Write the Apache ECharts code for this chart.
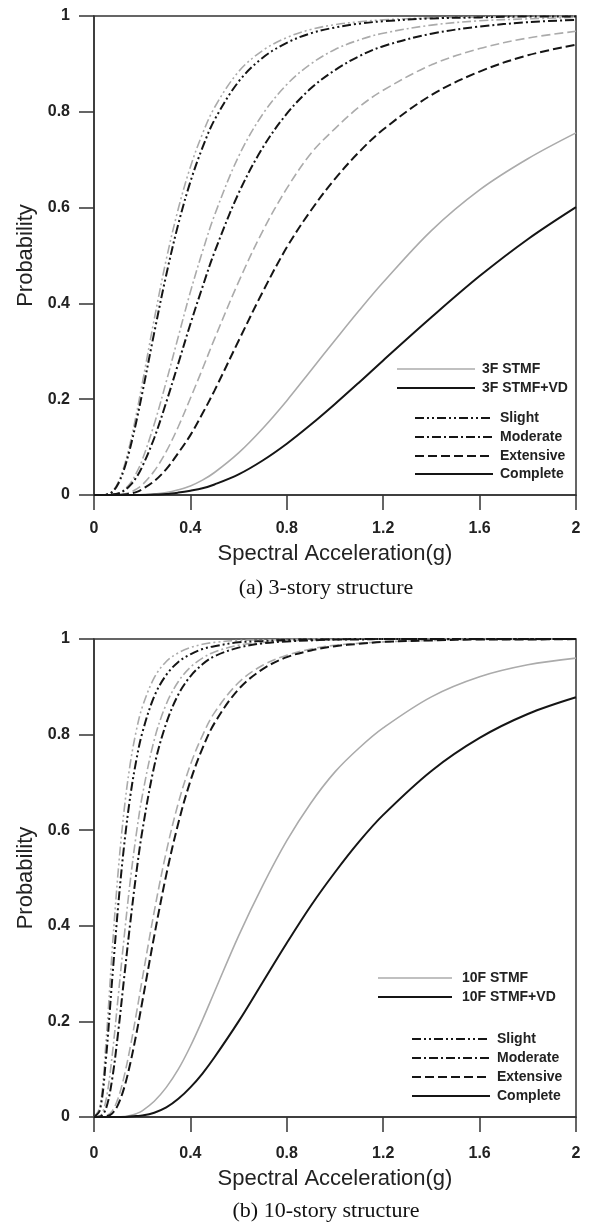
<!DOCTYPE html>
<html>
<head>
<meta charset="utf-8">
<script src="https://cdn.jsdelivr.net/npm/echarts@6/dist/echarts.min.js"></script>
<style>
html,body{margin:0;padding:0;background:#fff;}
#chart{width:590px;height:1228px;}
</style>
</head>
<body>
<div id="chart"></div>
<script>
// Spectral acceleration sample points (g)
const X = [0,0.025,0.05,0.075,0.1,0.125,0.15,0.175,0.2,0.25,0.3,0.35,0.4,0.45,0.5,0.6,0.7,0.8,0.9,1.0,1.1,1.2,1.4,1.6,1.8,2.0];
const xTicks = [0,0.4,0.8,1.2,1.6,2];
const yTicks = [0,0.2,0.4,0.6,0.8,1];

// (a) 3-story structure
const a_slight_stmf = [0,0,0.001,0.007,0.026,0.060,0.108,0.167,0.232,0.367,0.492,0.598,0.685,0.754,0.809,0.884,0.928,0.955,0.972,0.982,0.988,0.992,0.996,0.998,0.999,1.0];
const a_slight_vd   = [0,0,0.001,0.006,0.023,0.054,0.098,0.152,0.212,0.339,0.460,0.566,0.654,0.725,0.783,0.863,0.913,0.944,0.964,0.976,0.984,0.989,0.995,0.997,0.999,0.999];
const a_mod_stmf    = [0,0,0,0.001,0.003,0.011,0.024,0.045,0.073,0.148,0.237,0.331,0.424,0.508,0.584,0.707,0.795,0.857,0.900,0.930,0.950,0.964,0.981,0.990,0.994,0.997];
const a_mod_vd      = [0,0,0,0.001,0.003,0.009,0.020,0.036,0.059,0.119,0.194,0.275,0.357,0.434,0.507,0.630,0.725,0.796,0.849,0.887,0.916,0.937,0.963,0.978,0.987,0.992];
const a_ext_stmf    = [0,0,0,0,0.001,0.002,0.006,0.012,0.021,0.050,0.091,0.143,0.202,0.263,0.326,0.445,0.551,0.640,0.713,0.765,0.810,0.845,0.898,0.932,0.954,0.968];
const a_ext_vd      = [0,0,0,0,0,0.001,0.003,0.006,0.012,0.029,0.054,0.088,0.125,0.170,0.218,0.322,0.424,0.517,0.594,0.660,0.716,0.763,0.835,0.884,0.918,0.940];
const a_comp_stmf   = [0,0,0,0,0,0,0,0,0.001,0.002,0.005,0.011,0.019,0.031,0.047,0.088,0.139,0.197,0.260,0.323,0.385,0.444,0.552,0.637,0.702,0.756];
const a_comp_vd     = [0,0,0,0,0,0,0,0,0,0.001,0.002,0.005,0.009,0.014,0.022,0.043,0.072,0.107,0.147,0.190,0.235,0.281,0.371,0.457,0.534,0.601];

// (b) 10-story structure
const b_slight_stmf = [0,0.021,0.158,0.345,0.512,0.642,0.738,0.807,0.857,0.919,0.953,0.971,0.982,0.989,0.993,0.997,0.998,0.999,1,1,1,1,1,1,1,1];
const b_slight_vd   = [0,0.015,0.124,0.285,0.440,0.568,0.669,0.745,0.803,0.880,0.925,0.952,0.968,0.979,0.985,0.993,0.996,0.998,0.999,0.999,1,1,1,1,1,1];
const b_mod_stmf    = [0,0.002,0.036,0.127,0.250,0.376,0.492,0.590,0.671,0.789,0.864,0.911,0.941,0.960,0.973,0.987,0.993,0.996,0.998,0.999,1,1,1,1,1,1];
const b_mod_vd      = [0,0.001,0.018,0.078,0.176,0.291,0.404,0.508,0.597,0.734,0.824,0.884,0.922,0.947,0.964,0.982,0.991,0.995,0.997,0.999,0.999,1,1,1,1,1];
const b_ext_stmf    = [0,0,0.002,0.012,0.039,0.085,0.145,0.214,0.288,0.430,0.555,0.657,0.737,0.798,0.846,0.909,0.945,0.966,0.979,0.987,0.991,0.994,0.997,0.999,0.999,1];
const b_ext_vd      = [0,0,0.001,0.007,0.026,0.061,0.111,0.172,0.240,0.379,0.507,0.615,0.703,0.771,0.824,0.895,0.937,0.962,0.976,0.985,0.990,0.994,0.997,0.999,0.999,1];
const b_comp_stmf   = [0,0,0,0,0,0.001,0.003,0.007,0.013,0.033,0.062,0.100,0.148,0.203,0.262,0.379,0.484,0.578,0.657,0.722,0.772,0.814,0.879,0.921,0.946,0.960];
const b_comp_vd     = [0,0,0,0,0,0,0.001,0.002,0.003,0.009,0.020,0.038,0.062,0.091,0.125,0.200,0.282,0.364,0.442,0.512,0.576,0.632,0.724,0.793,0.843,0.878];

const states = ['Slight','Moderate','Extensive','Complete'];
const legendA = ['3F STMF','3F STMF+VD'];
const legendB = ['10F STMF','10F STMF+VD'];
const captions = ['(a) 3-story structure','(b) 10-story structure'];

const GRAY = '#ababab', BLACK = '#151515';
const DASH = {Slight:[9,3,2,3,2,3], Moderate:[9,3,2,3], Extensive:[9,4], Complete:'solid'};
const SANS = '"Liberation Sans", Arial, sans-serif';
const SERIF = '"Liberation Serif", "Times New Roman", serif';

const panels = [
  {stmf:[a_slight_stmf,a_mod_stmf,a_ext_stmf,a_comp_stmf], vd:[a_slight_vd,a_mod_vd,a_ext_vd,a_comp_vd]},
  {stmf:[b_slight_stmf,b_mod_stmf,b_ext_stmf,b_comp_stmf], vd:[b_slight_vd,b_mod_vd,b_ext_vd,b_comp_vd]}
];

const series = [];
panels.forEach((p, pi) => {
  states.forEach((s, si) => {
    series.push({type:'line', xAxisIndex:pi, yAxisIndex:pi, showSymbol:false, smooth:0.35,
      data:X.map((x,i)=>[x,p.stmf[si][i]]), lineStyle:{color:GRAY,width:1.6,type:DASH[s]}, z:2, silent:true});
  });
  states.forEach((s, si) => {
    series.push({type:'line', xAxisIndex:pi, yAxisIndex:pi, showSymbol:false, smooth:0.35,
      data:X.map((x,i)=>[x,p.vd[si][i]]), lineStyle:{color:BLACK,width:2,type:DASH[s]}, z:3, silent:true});
  });
});

const grids = [
  {left:94, top:16, width:482, height:479},
  {left:94, top:639, width:482, height:478}
];

function xAx(i){
  return {type:'value', gridIndex:i, min:xTicks[0], max:xTicks[xTicks.length-1], interval:0.4,
    axisLine:{show:true,onZero:false,lineStyle:{color:'#333',width:1.5}},
    axisTick:{show:true,inside:false,length:15,lineStyle:{color:'#333',width:1.5}},
    splitLine:{show:false},
    axisLabel:{margin:i?29:26,color:'#222',fontFamily:SANS,fontWeight:'bold',fontSize:16,
      formatter:v=>{const t=xTicks.find(u=>Math.abs(u-v)<1e-6);return t===undefined?'':String(t);}},
    name:'Spectral Acceleration(g)', nameLocation:'middle', nameGap:i?51:48,
    nameTextStyle:{fontFamily:SANS,fontSize:22,color:'#222'}};
}
function yAx(i){
  return {type:'value', gridIndex:i, min:yTicks[0], max:yTicks[yTicks.length-1], interval:0.2,
    axisLine:{show:true,lineStyle:{color:'#333',width:1.5}},
    axisTick:{show:true,inside:false,length:15,lineStyle:{color:'#333',width:1.5}},
    splitLine:{show:false},
    axisLabel:{margin:24,color:'#222',fontFamily:SANS,fontWeight:'bold',fontSize:16,
      formatter:v=>{const t=yTicks.find(u=>Math.abs(u-v)<1e-6);return t===undefined?'':String(t);}},
    name:'Probability', nameLocation:'middle', nameGap:50,
    nameTextStyle:{fontFamily:SANS,fontSize:22,color:'#222'}};
}

// legend drawn as graphic elements
function legendGraphics(lx0, lx1, ltx, ys, sx0, sx1, stx, sy, labels){
  const g = [];
  const cols = [GRAY, BLACK];
  labels.forEach((lab, k) => {
    g.push({type:'line', shape:{x1:lx0,y1:ys[k],x2:lx1,y2:ys[k]}, style:{stroke:cols[k],lineWidth:k?2:1.6}});
    g.push({type:'text', x:ltx, y:ys[k], style:{text:lab,fill:'#222',font:'bold 14px '+SANS,textVerticalAlign:'middle'}});
  });
  states.forEach((s, k) => {
    const d = DASH[s];
    g.push({type:'line', shape:{x1:sx0,y1:sy[k],x2:sx1,y2:sy[k]}, style:{stroke:BLACK,lineWidth:2,lineDash:Array.isArray(d)?d:null}});
    g.push({type:'text', x:stx, y:sy[k], style:{text:s,fill:'#222',font:'bold 14px '+SANS,textVerticalAlign:'middle'}});
  });
  return g;
}

const graphics = []
  .concat(legendGraphics(397,475,482,[369,388],415,493,500,[418,437,456,474],legendA))
  .concat(legendGraphics(378,452,462,[978,997],412,490,497,[1039,1058,1077,1096],legendB))
  .concat([
    {type:'text', x:326, y:588, style:{text:captions[0],fill:'#111',font:'22px '+SERIF,textAlign:'center',textVerticalAlign:'middle'}},
    {type:'text', x:326, y:1211, style:{text:captions[1],fill:'#111',font:'22px '+SERIF,textAlign:'center',textVerticalAlign:'middle'}}
  ]);

const chart = echarts.init(document.getElementById('chart'), null, {renderer:'canvas'});
chart.setOption({
  animation:false,
  backgroundColor:'#fff',
  grid: grids.map(g=>Object.assign({show:true,borderColor:'#333',borderWidth:1.5,backgroundColor:'transparent'},g)),
  xAxis:[xAx(0),xAx(1)],
  yAxis:[yAx(0),yAx(1)],
  series:series,
  graphic:graphics
});
</script>
</body>
</html>
